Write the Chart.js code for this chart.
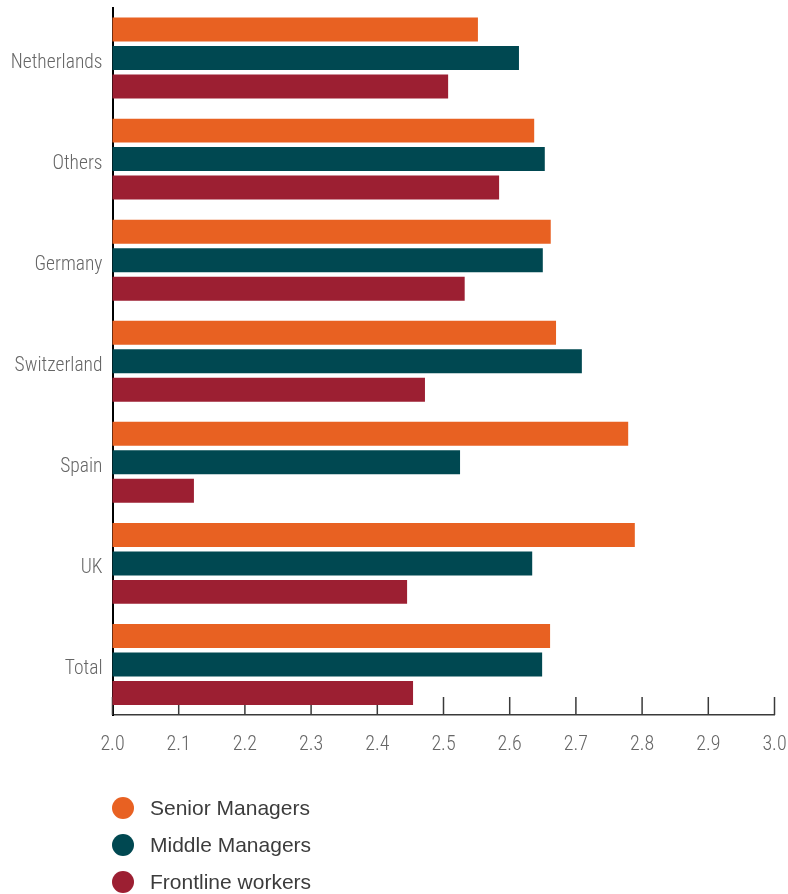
<!DOCTYPE html>
<html>
<head>
<meta charset="utf-8">
<script src="https://cdn.jsdelivr.net/npm/chart.js@4/dist/chart.umd.min.js"></script>
<style>
  html, body { margin: 0; padding: 0; background: #fff; }
  #wrap { position: relative; width: 788px; height: 894px; }
  #chart { display: block; }
  #legend {
    position: absolute; left: 112px; top: 789px;
    list-style: none; margin: 0; padding: 0;
    font-family: "Liberation Sans", Arial, sans-serif; font-size: 21px; color: #3c3c3c;
  }
  #legend li { display: flex; align-items: center; height: 37px; }
  #legend .dot { width: 22px; height: 22px; border-radius: 50%; margin-right: 16px; flex: none; }
</style>
</head>
<body>
<div id="wrap">
  <canvas id="chart" width="788" height="894"></canvas>
  <ul id="legend"></ul>
</div>
<script>
// Categories and scores per staff level
const countries = ['Netherlands', 'Others', 'Germany', 'Switzerland', 'Spain', 'UK', 'Total'];
const seniorManagers = [2.552, 2.637, 2.662, 2.670, 2.779, 2.789, 2.661];
const middleManagers = [2.614, 2.653, 2.650, 2.709, 2.525, 2.634, 2.649];
const frontlineWorkers = [2.507, 2.584, 2.532, 2.472, 2.123, 2.445, 2.454];
const xTicks = [2.0, 2.1, 2.2, 2.3, 2.4, 2.5, 2.6, 2.7, 2.8, 2.9, 3.0];

// Pick the narrowest installed face for axis labels
function pickNarrowFamily() {
  const c = document.createElement('canvas').getContext('2d');
  const probe = 'Switzerland 2.0';
  c.font = '20px monospace';
  const base = c.measureText(probe).width;
  const candidates = ['Roboto Condensed', 'Liberation Sans Narrow', 'Arial Narrow', 'DejaVu Sans Condensed'];
  for (const f of candidates) {
    c.font = `20px "${f}", monospace`;
    if (Math.abs(c.measureText(probe).width - base) > 0.5) return `"${f}", sans-serif`;
  }
  return 'sans-serif';
}

const narrowFamily = pickNarrowFamily();
const yLabelFont = { family: narrowFamily, size: 19.5, weight: 300 };
const xLabelFont = { family: narrowFamily, size: 20, weight: 300 };
const labelColor = '#666666';

// Short tick marks pointing up from the x axis, behind the bars
const innerTicks = {
  id: 'innerTicks',
  beforeDatasetsDraw(chart) {
    const x = chart.scales.x;
    const bottom = chart.chartArea.bottom;
    const ctx = chart.ctx;
    ctx.save();
    ctx.strokeStyle = '#3a3a3a';
    ctx.lineWidth = 1.5;
    x.ticks.forEach(t => {
      const px = x.getPixelForValue(t.value);
      ctx.beginPath();
      ctx.moveTo(px, bottom);
      ctx.lineTo(px, bottom - 18);
      ctx.stroke();
    });
    ctx.restore();
  }
};

// Vertical HTML legend built from the datasets
const htmlLegend = {
  id: 'htmlLegend',
  afterUpdate(chart) {
    const ul = document.getElementById('legend');
    ul.innerHTML = '';
    chart.data.datasets.forEach(ds => {
      const li = document.createElement('li');
      const dot = document.createElement('span');
      dot.className = 'dot';
      dot.style.background = ds.backgroundColor;
      li.appendChild(dot);
      li.appendChild(document.createTextNode(ds.label));
      ul.appendChild(li);
    });
  }
};

function noScalePadding(scale) {
  scale.paddingTop = 0;
  scale.paddingBottom = 0;
  scale.paddingLeft = 0;
  scale.paddingRight = 0;
}

const ctx = document.getElementById('chart').getContext('2d');
new Chart(ctx, {
  type: 'bar',
  data: {
    labels: countries,
    datasets: [
      { label: 'Senior Managers', data: seniorManagers, backgroundColor: '#E86122' },
      { label: 'Middle Managers', data: middleManagers, backgroundColor: '#004851' },
      { label: 'Frontline workers', data: frontlineWorkers, backgroundColor: '#9C1F32' }
    ]
  },
  options: {
    indexAxis: 'y',
    responsive: false,
    animation: false,
    categoryPercentage: 0.845,
    barPercentage: 0.842,
    layout: { padding: { top: 7.5, right: 13.5, bottom: 139, left: 0 } },
    plugins: {
      legend: { display: false },
      tooltip: { enabled: false }
    },
    scales: {
      x: {
        min: 2.0,
        max: 3.0,
        afterBuildTicks(scale) {
          scale.ticks = xTicks.map(v => ({ value: v }));
        },
        afterFit(scale) {
          scale.height = 40;
          noScalePadding(scale);
        },
        ticks: {
          font: xLabelFont,
          color: labelColor,
          padding: 18,
          maxRotation: 0,
          callback: v => Number(v).toFixed(1)
        },
        grid: { display: false, drawTicks: false },
        border: { display: true, color: '#3a3a3a', width: 1.5 }
      },
      y: {
        afterFit(scale) {
          scale.width = 112.5;
          noScalePadding(scale);
        },
        ticks: { font: yLabelFont, color: labelColor, padding: 10, labelOffset: 5 },
        grid: { display: false, drawTicks: false },
        border: { display: true, color: '#000', width: 2 }
      }
    }
  },
  plugins: [innerTicks, htmlLegend]
});
</script>
</body>
</html>
